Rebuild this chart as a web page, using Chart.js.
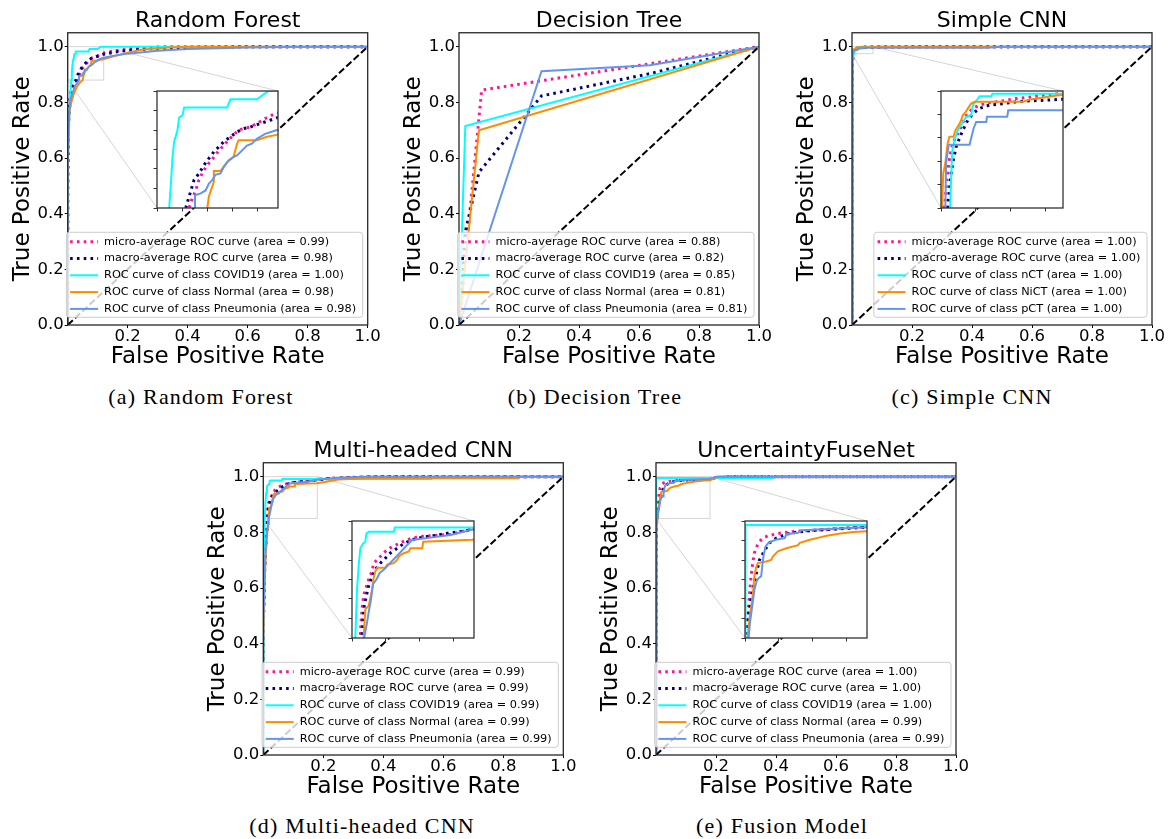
<!DOCTYPE html>
<html>
<head>
<meta charset="utf-8">
<script src="https://cdn.jsdelivr.net/npm/chart.js@4.4.0/dist/chart.umd.min.js"></script>
<style>
  body { margin: 0; background: #fff; width: 1172px; height: 839px; position: relative; overflow: hidden; }
  canvas { position: absolute; }
  .cap { position: absolute; font-family: "Liberation Serif", serif; font-size: 22px; letter-spacing: 1.2px;
         transform: translate(-50%, -50%); white-space: nowrap; color: #000; }
</style>
</head>
<body>
<canvas id="rf" width="390" height="375" style="left:0px;top:0px"></canvas>
<canvas id="dt" width="390" height="375" style="left:391px;top:0px"></canvas>
<canvas id="cnn" width="390" height="375" style="left:784px;top:0px"></canvas>
<canvas id="mh" width="390" height="375" style="left:195px;top:430px"></canvas>
<canvas id="uf" width="390" height="375" style="left:588px;top:430px"></canvas>

<div class="cap" style="left:201px;top:397px">(a) Random Forest</div>
<div class="cap" style="left:595px;top:397px">(b) Decision Tree</div>
<div class="cap" style="left:972px;top:397px">(c) Simple CNN</div>
<div class="cap" style="left:362px;top:826px">(d) Multi-headed CNN</div>
<div class="cap" style="left:782px;top:826px">(e) Fusion Model</div>

<script>
// ---- data: [false positive rate, true positive rate] ----
var chanceLine = [[0, 0], [1, 1]];

// (a) Random Forest
var rfMicro = [[0,0],[0,0.5],[0.003,0.72],[0.008,0.8],[0.015,0.85],[0.025,0.87],[0.0318,0.88],[0.0351,0.89],[0.0384,0.898],[0.0416,0.909],[0.0466,0.919],[0.0515,0.926],[0.0564,0.932],[0.0613,0.939],[0.0662,0.944],[0.0711,0.95],[0.0761,0.955],[0.081,0.96],[0.0859,0.9615],[0.0925,0.963],[0.099,0.9666],[0.1072,0.9717],[0.117,0.9768],[0.15,0.984],[0.2,0.992],[0.3,0.999],[0.35,1],[1,1]];
var rfMacro = [[0,0],[0,0.55],[0.003,0.75],[0.008,0.82],[0.015,0.86],[0.022,0.875],[0.0285,0.88],[0.0318,0.8916],[0.0367,0.9086],[0.0416,0.9155],[0.0466,0.924],[0.0515,0.931],[0.0564,0.9376],[0.0613,0.9427],[0.0662,0.948],[0.0728,0.953],[0.0793,0.958],[0.0859,0.9615],[0.0925,0.963],[0.1023,0.9666],[0.1121,0.97],[0.12,0.973],[0.16,0.981],[0.2,0.987],[0.3,0.994],[0.45,0.998],[0.6,1],[1,1]];
var rfCovid = [[0,0],[0,0.55],[0.004,0.7],[0.008,0.82],[0.0121,0.88],[0.0138,0.905],[0.0154,0.9325],[0.017,0.948],[0.019,0.955],[0.0203,0.96],[0.022,0.973],[0.0253,0.975],[0.0269,0.983],[0.0695,0.983],[0.0728,0.9915],[0.099,0.9915],[0.1105,1],[1,1]];
var rfNormal = [[0,0],[0,0.55],[0.003,0.7],[0.006,0.77],[0.012,0.8],[0.02,0.83],[0.03,0.855],[0.04,0.87],[0.0499,0.88],[0.0514,0.8916],[0.0564,0.907],[0.0564,0.918],[0.063,0.918],[0.0695,0.927],[0.076,0.9325],[0.0794,0.946],[0.081,0.9496],[0.099,0.9496],[0.109,0.953],[0.1187,0.955],[0.15,0.965],[0.2,0.978],[0.25,0.99],[0.35,0.998],[0.4,1],[1,1]];
var rfPneu = [[0,0],[0,0.6],[0.004,0.75],[0.008,0.8],[0.015,0.83],[0.025,0.86],[0.035,0.875],[0.0377,0.88],[0.0377,0.893],[0.0433,0.895],[0.0482,0.898],[0.0515,0.905],[0.0548,0.9086],[0.058,0.914],[0.063,0.9155],[0.0662,0.922],[0.0711,0.929],[0.0761,0.9325],[0.0793,0.934],[0.0843,0.939],[0.0892,0.944],[0.0941,0.946],[0.099,0.951],[0.1072,0.956],[0.1203,0.9605],[0.15,0.967],[0.2,0.975],[0.3,0.985],[0.4,0.992],[0.6,0.997],[0.8,1],[1,1]];
var rfLabels = ['micro-average ROC curve (area = 0.99)', 'macro-average ROC curve (area = 0.98)',
  'ROC curve of class COVID19 (area = 1.00)', 'ROC curve of class Normal (area = 0.98)', 'ROC curve of class Pneumonia (area = 0.98)'];

// (b) Decision Tree
var dtMicro = [[0,0],[0.0755,0.844],[1,1]];
var dtMacro = [[0,0],[0.021,0.335],[0.0666,0.549],[0.275,0.823],[0.636,0.903],[1,1]];
var dtCovid = [[0,0],[0.021,0.715],[1,1]];
var dtNormal = [[0,0],[0.0666,0.70],[1,1]];
var dtPneu = [[0,0],[0.275,0.912],[0.636,0.933],[1,1]];
var dtLabels = ['micro-average ROC curve (area = 0.88)', 'macro-average ROC curve (area = 0.82)',
  'ROC curve of class COVID19 (area = 0.85)', 'ROC curve of class Normal (area = 0.81)', 'ROC curve of class Pneumonia (area = 0.81)'];

// (c) Simple CNN
var cnnMicro = [[0,0],[0,0.8],[0.001,0.94],[0.0019,0.975],[0.0029,0.9789],[0.0038,0.9824],[0.0048,0.9853],[0.0058,0.9874],[0.0077,0.9895],[0.0096,0.9909],[0.0116,0.9924],[0.0135,0.9941],[0.0154,0.9952],[0.0183,0.9963],[0.0222,0.997],[0.0279,0.9975],[0.0357,0.9979],[0.0434,0.9984],[0.0511,0.9987],[0.0588,0.9991],[0.0675,0.9994],[0.1,0.9997],[0.2,1],[1,1]];
var cnnMacro = [[0,0],[0,0.8],[0.0015,0.94],[0.0038,0.975],[0.0048,0.9789],[0.0058,0.9824],[0.0071,0.9853],[0.0087,0.9881],[0.0106,0.9899],[0.0125,0.9916],[0.0154,0.9938],[0.0183,0.9952],[0.0222,0.9963],[0.0279,0.997],[0.0357,0.9973],[0.0434,0.9977],[0.0511,0.9979],[0.0588,0.998],[0.0675,0.9982],[0.15,0.999],[0.3,1],[1,1]];
var cnnNct = [[0,0],[0,0.85],[0.003,0.95],[0.0052,0.975],[0.0058,0.981],[0.0064,0.987],[0.0077,0.9895],[0.0096,0.9916],[0.0144,0.9945],[0.0173,0.9948],[0.0183,0.997],[0.0212,0.9984],[0.0222,0.9989],[0.0289,0.9989],[0.0295,0.9994],[0.2,0.9994],[0.3,1],[1,1]];
var cnnNict = [[0,0],[0,0.9],[0.0003,0.96],[0.0006,0.975],[0.0013,0.9824],[0.0025,0.9846],[0.0038,0.9888],[0.0048,0.9902],[0.0071,0.9902],[0.0083,0.9916],[0.0102,0.9927],[0.0116,0.9938],[0.0125,0.9948],[0.0141,0.9955],[0.016,0.9966],[0.0173,0.9973],[0.0193,0.9977],[0.0472,0.9977],[0.0511,0.9982],[0.0675,0.9991],[0.1,1],[1,1]];
var cnnPct = [[0,0],[0,0.85],[0.0015,0.95],[0.0025,0.975],[0.0029,0.9846],[0.0044,0.9885],[0.0164,0.9885],[0.0173,0.9899],[0.0187,0.992],[0.0202,0.9934],[0.026,0.9934],[0.0264,0.9945],[0.038,0.9945],[0.0386,0.9959],[0.45,0.9959],[0.5,1],[1,1]];
var cnnLabels = ['micro-average ROC curve (area = 1.00)', 'macro-average ROC curve (area = 1.00)',
  'ROC curve of class nCT (area = 1.00)', 'ROC curve of class NiCT (area = 1.00)', 'ROC curve of class pCT (area = 1.00)'];

// (d) Multi-headed CNN
var mhMicro = [[0,0],[0,0.45],[0.003,0.65],[0.007,0.76],[0.01,0.81],[0.0123,0.851],[0.0133,0.87],[0.0148,0.887],[0.0172,0.904],[0.0197,0.912],[0.0246,0.925],[0.0296,0.9355],[0.032,0.946],[0.037,0.95],[0.0444,0.957],[0.0518,0.963],[0.0592,0.967],[0.069,0.971],[0.0789,0.975],[0.0888,0.978],[0.1011,0.98],[0.1159,0.981],[0.1307,0.982],[0.1455,0.983],[0.1603,0.986],[0.1776,0.99],[0.22,0.994],[0.3,0.998],[0.35,1],[1,1]];
var mhMacro = [[0,0],[0,0.45],[0.004,0.65],[0.008,0.75],[0.012,0.8],[0.0148,0.851],[0.0162,0.874],[0.0182,0.891],[0.0212,0.904],[0.0246,0.917],[0.0281,0.925],[0.033,0.9355],[0.0394,0.944],[0.0468,0.95],[0.0567,0.959],[0.0666,0.965],[0.0764,0.971],[0.0863,0.975],[0.0962,0.978],[0.111,0.98],[0.1258,0.982],[0.1455,0.985],[0.1652,0.987],[0.1776,0.989],[0.22,0.993],[0.3,0.997],[0.4,1],[1,1]];
var mhCovid = [[0,0],[0,0.45],[0.002,0.7],[0.004,0.82],[0.0049,0.851],[0.0074,0.912],[0.0098,0.942],[0.0123,0.965],[0.0162,0.971],[0.0197,0.9735],[0.0212,0.984],[0.0246,0.9861],[0.0616,0.9861],[0.0631,0.9916],[0.56,0.9916],[0.565,1],[1,1]];
var mhNormal = [[0,0],[0,0.4],[0.004,0.6],[0.008,0.72],[0.012,0.78],[0.015,0.82],[0.0172,0.851],[0.0197,0.887],[0.0246,0.891],[0.0296,0.912],[0.032,0.927],[0.0345,0.9355],[0.037,0.94],[0.0493,0.94],[0.0518,0.944],[0.0616,0.946],[0.0666,0.95],[0.069,0.9545],[0.0764,0.9587],[0.0838,0.961],[0.0863,0.965],[0.1036,0.965],[0.1051,0.9735],[0.1776,0.976],[0.2,0.98],[0.25,0.99],[0.35,0.994],[0.85,0.994],[0.855,1],[1,1]];
var mhPneu = [[0,0],[0,0.45],[0.003,0.6],[0.008,0.75],[0.012,0.8],[0.016,0.83],[0.0182,0.851],[0.0222,0.87],[0.0246,0.883],[0.0281,0.9],[0.031,0.919],[0.036,0.925],[0.0409,0.9334],[0.0468,0.9376],[0.0518,0.942],[0.0715,0.96],[0.0789,0.967],[0.0888,0.9756],[0.1184,0.979],[0.1455,0.982],[0.1776,0.989],[0.25,0.996],[0.35,1],[1,1]];
var mhLabels = ['micro-average ROC curve (area = 0.99)', 'macro-average ROC curve (area = 0.99)',
  'ROC curve of class COVID19 (area = 0.99)', 'ROC curve of class Normal (area = 0.99)', 'ROC curve of class Pneumonia (area = 0.99)'];

// (e) UncertaintyFuseNet
var ufMicro = [[0,0],[0,0.7],[0.001,0.8],[0.0024,0.851],[0.0044,0.879],[0.0064,0.904],[0.0089,0.929],[0.0114,0.946],[0.0138,0.959],[0.0173,0.967],[0.0213,0.9735],[0.0262,0.978],[0.0337,0.981],[0.0436,0.983],[0.056,0.985],[0.0758,0.987],[0.1006,0.988],[0.1304,0.99],[0.18,0.993],[0.2,0.997],[0.25,1],[1,1]];
var ufMacro = [[0,0],[0,0.7],[0.0014,0.851],[0.0064,0.887],[0.0114,0.912],[0.0163,0.931],[0.0213,0.95],[0.0287,0.962],[0.0362,0.972],[0.0461,0.978],[0.061,0.983],[0.0783,0.986],[0.1006,0.988],[0.1403,0.99],[0.18,0.992],[0.2,0.996],[0.25,1],[1,1]];
var ufCovid = [[0,0],[0,0.75],[0.0014,0.995],[0.39,0.995],[0.39,1],[1,1]];
var ufNormal = [[0,0],[0,0.7],[0.002,0.8],[0.0039,0.851],[0.0064,0.874],[0.0114,0.904],[0.0138,0.929],[0.0163,0.94],[0.0188,0.946],[0.0312,0.948],[0.0386,0.95],[0.0411,0.9545],[0.0485,0.961],[0.061,0.965],[0.0783,0.969],[0.0808,0.972],[0.0957,0.976],[0.1105,0.979],[0.1205,0.981],[0.1403,0.984],[0.1601,0.986],[0.18,0.987],[0.21,1],[1,1]];
var ufPneu = [[0,0],[0,0.75],[0.003,0.82],[0.0054,0.851],[0.0074,0.87],[0.0114,0.8955],[0.0138,0.912],[0.0173,0.923],[0.0203,0.927],[0.0238,0.929],[0.0252,0.94],[0.0272,0.9545],[0.0302,0.967],[0.0337,0.971],[0.0386,0.9735],[0.0451,0.976],[0.0585,0.978],[0.061,0.983],[0.0783,0.985],[0.0833,0.988],[0.18,0.992],[0.2,1],[1,1]];
var ufLabels = ['micro-average ROC curve (area = 1.00)', 'macro-average ROC curve (area = 1.00)',
  'ROC curve of class COVID19 (area = 1.00)', 'ROC curve of class Normal (area = 0.99)', 'ROC curve of class Pneumonia (area = 0.99)'];

// tick values
var mainXTicks = [0.2, 0.4, 0.6, 0.8, 1.0];
var mainYTicks = [0.0, 0.2, 0.4, 0.6, 0.8, 1.0];
var insetRfX = [0, 0.025, 0.05, 0.075, 0.1];
var insetRfY = [0.88, 0.90, 0.92, 0.94, 0.96, 0.98, 1.0];
var insetCnnX = [0, 0.02, 0.04, 0.06];
var insetCnnY = [0.975, 0.98, 0.985, 0.99, 0.995, 1.0];
var insetMhX = [0, 0.05, 0.1, 0.15];
var insetMhY = [0.85, 0.875, 0.9, 0.925, 0.95, 0.975, 1.0];

// ---- styling / layout ----
Chart.defaults.font.family = '"DejaVu Sans", sans-serif';
Chart.defaults.color = '#000';

var curveStyles = [
  { color: 'deeppink', width: 3, dash: [2.6, 4.2] },
  { color: 'navy', width: 3, dash: [2.6, 4.2] },
  { color: 'aqua', width: 2, dash: [] },
  { color: 'darkorange', width: 2, dash: [] },
  { color: 'cornflowerblue', width: 2, dash: [] }
];
var MAIN_W = 390, MAIN_H = 375, AREA_W = 300;
var INSET_BOX = [0.297, 0.702, 0.419, 0.842]; // where the inset sits, in main-axes data units
var LEGEND_FONT = '11.3px "DejaVu Sans"';

var panels = [
  { id: 'rf', left: 0, top: 0, yw: 67.7, title: 'Random Forest', curves: [rfMicro, rfMacro, rfCovid, rfNormal, rfPneu], labels: rfLabels,
    inset: { xMin: 0, xMax: 0.12, yMin: 0.88, yMax: 1.0, xTicks: insetRfX, yTicks: insetRfY } },
  { id: 'dt', left: 391, top: 0, yw: 68, title: 'Decision Tree', curves: [dtMicro, dtMacro, dtCovid, dtNormal, dtPneu], labels: dtLabels, inset: null },
  { id: 'cnn', left: 784, top: 0, yw: 68, title: 'Simple CNN', curves: [cnnMicro, cnnMacro, cnnNct, cnnNict, cnnPct], labels: cnnLabels,
    inset: { xMin: 0, xMax: 0.07, yMin: 0.975, yMax: 1.0, xTicks: insetCnnX, yTicks: insetCnnY } },
  { id: 'mh', left: 195, top: 430, yw: 68.3, title: 'Multi-headed CNN', curves: [mhMicro, mhMacro, mhCovid, mhNormal, mhPneu], labels: mhLabels,
    inset: { xMin: 0, xMax: 0.18, yMin: 0.85, yMax: 1.0, xTicks: insetMhX, yTicks: insetMhY } },
  { id: 'uf', left: 588, top: 430, yw: 68, title: 'UncertaintyFuseNet', curves: [ufMicro, ufMacro, ufCovid, ufNormal, ufPneu], labels: ufLabels,
    inset: { xMin: 0, xMax: 0.18, yMin: 0.85, yMax: 1.0, xTicks: insetMhX, yTicks: insetMhY } }
];

function curveDatasets(curves) {
  return curves.map(function (c, i) {
    var s = curveStyles[i];
    return { data: c, borderColor: s.color, borderWidth: s.width, borderDash: s.dash, pointRadius: 0,
             tension: 0, fill: false, clip: 0, order: 6 - i };
  });
}

function fixedTicks(list) {
  return function (scale) { scale.ticks = list.map(function (v) { return { value: v }; }); };
}

function drawFrame(chart, color, width) {
  var a = chart.chartArea, ctx = chart.ctx;
  ctx.save();
  ctx.strokeStyle = color;
  ctx.lineWidth = width;
  ctx.strokeRect(a.left, a.top, a.right - a.left, a.bottom - a.top);
  ctx.restore();
}

function roundedBox(ctx, x, y, w, h, r) {
  ctx.beginPath();
  ctx.moveTo(x + r, y);
  ctx.lineTo(x + w - r, y); ctx.arcTo(x + w, y, x + w, y + r, r);
  ctx.lineTo(x + w, y + h - r); ctx.arcTo(x + w, y + h, x + w - r, y + h, r);
  ctx.lineTo(x + r, y + h); ctx.arcTo(x, y + h, x, y + h - r, r);
  ctx.lineTo(x, y + r); ctx.arcTo(x, y, x + r, y, r);
  ctx.closePath();
}

function drawLegend(chart, labels) {
  var ctx = chart.ctx, a = chart.chartArea;
  ctx.save();
  ctx.font = LEGEND_FONT;
  var tw = 0;
  labels.forEach(function (t) { tw = Math.max(tw, ctx.measureText(t).width); });
  var w = 37.7 + tw + 6.6, h = 85;
  var x0 = a.right - 5 - w, y0 = a.bottom - 7.7 - h;
  roundedBox(ctx, x0, y0, w, h, 3);
  ctx.fillStyle = 'rgba(255,255,255,0.8)';
  ctx.fill();
  ctx.strokeStyle = '#cccccc';
  ctx.lineWidth = 1;
  ctx.stroke();
  labels.forEach(function (t, i) {
    var s = curveStyles[i], yy = y0 + 9.4 + i * 16.8;
    ctx.beginPath();
    ctx.setLineDash(s.dash);
    ctx.lineWidth = s.width;
    ctx.strokeStyle = s.color;
    ctx.moveTo(x0 + 3.7, yy);
    ctx.lineTo(x0 + 31.7, yy);
    ctx.stroke();
    ctx.setLineDash([]);
    ctx.fillStyle = '#000';
    ctx.textBaseline = 'middle';
    ctx.fillText(t, x0 + 37.7, yy);
  });
  ctx.restore();
}

// corners of the inset box in chart pixels (rounded like the inset canvas)
function insetCorners(chart, p) {
  var xs = chart.scales.x, ys = chart.scales.y;
  return {
    x0: Math.round(p.left + xs.getPixelForValue(INSET_BOX[0])) - p.left,
    x1: Math.round(p.left + xs.getPixelForValue(INSET_BOX[1])) - p.left,
    y0: Math.round(p.top + ys.getPixelForValue(INSET_BOX[3])) - p.top,
    y1: Math.round(p.top + ys.getPixelForValue(INSET_BOX[2])) - p.top
  };
}

function drawZoomMarks(chart, p) {
  var ins = p.inset, xs = chart.scales.x, ys = chart.scales.y, ctx = chart.ctx;
  var rx0 = xs.getPixelForValue(ins.xMin), rx1 = xs.getPixelForValue(ins.xMax);
  var ry0 = ys.getPixelForValue(ins.yMax), ry1 = ys.getPixelForValue(ins.yMin);
  var b = insetCorners(chart, p);
  ctx.save();
  ctx.strokeStyle = 'rgba(0,0,0,0.17)';
  ctx.lineWidth = 1;
  ctx.strokeRect(rx0, ry0, rx1 - rx0, ry1 - ry0);
  ctx.beginPath();
  ctx.moveTo(rx1, ry0); ctx.lineTo(b.x1, b.y0);
  ctx.moveTo(rx0, ry1); ctx.lineTo(b.x0, b.y1);
  ctx.stroke();
  ctx.restore();
}

function mainConfig(p) {
  var ds = curveDatasets(p.curves);
  ds.push({ data: chanceLine, borderColor: '#000', borderWidth: 2, borderDash: [7, 3], pointRadius: 0,
            tension: 0, fill: false, clip: 0, order: 0 });
  return {
    type: 'line',
    data: { datasets: ds },
    options: {
      responsive: false, animation: false, devicePixelRatio: 1, events: [],
      layout: { padding: { left: 0, top: 0, right: MAIN_W - p.yw - AREA_W, bottom: 0 } },
      plugins: {
        legend: { display: false },
        tooltip: { enabled: false },
        title: { display: true, text: p.title, fullSize: false, color: '#000',
                 font: { size: 22, weight: 'normal', lineHeight: 1.08 }, padding: { top: 9, bottom: 0 } }
      },
      scales: {
        x: {
          type: 'linear', min: 0, max: 1,
          border: { display: false },
          grid: { drawOnChartArea: false, drawTicks: true, tickLength: 3, color: '#000' },
          ticks: { font: { size: 16.5, lineHeight: 1.05 }, padding: 0, maxRotation: 0, color: '#000',
                   callback: function (v) { return v.toFixed(1); } },
          afterBuildTicks: fixedTicks(mainXTicks),
          afterFit: function (s) { s.height = 50; },
          title: { display: true, text: 'False Positive Rate', color: '#000',
                   font: { size: 23, lineHeight: 1.2 }, padding: { top: 0, bottom: 4 } }
        },
        y: {
          type: 'linear', min: 0, max: 1.05,
          border: { display: false },
          grid: { drawOnChartArea: false, drawTicks: true, tickLength: 3, color: '#000' },
          ticks: { font: { size: 16.5 }, padding: 1, color: '#000',
                   callback: function (v) { return v.toFixed(1); } },
          afterBuildTicks: fixedTicks(mainYTicks),
          afterFit: function (s) { s.width = p.yw; },
          title: { display: true, text: 'True Positive Rate', color: '#000',
                   font: { size: 23, lineHeight: 1.2 }, padding: { top: 9, bottom: 0 } }
        }
      }
    },
    plugins: [{
      id: 'panel_' + p.id,
      beforeDatasetsDraw: function (chart) { if (p.inset) drawZoomMarks(chart, p); },
      afterDatasetsDraw: function (chart) { drawFrame(chart, '#262626', 1.3); drawLegend(chart, p.labels); }
    }]
  };
}

function insetConfig(p) {
  var ins = p.inset;
  return {
    type: 'line',
    data: { datasets: curveDatasets(p.curves) },
    options: {
      responsive: false, animation: false, devicePixelRatio: 1, events: [],
      layout: { padding: { left: 0, top: 1, right: 1, bottom: 0 } },
      plugins: { legend: { display: false }, tooltip: { enabled: false } },
      scales: {
        x: {
          type: 'linear', min: ins.xMin, max: ins.xMax,
          border: { display: false },
          grid: { drawOnChartArea: false, drawTicks: true, tickLength: 3.5, color: '#333' },
          ticks: { display: false },
          afterBuildTicks: fixedTicks(ins.xTicks),
          afterFit: function (s) { s.height = 6; }
        },
        y: {
          type: 'linear', min: ins.yMin, max: ins.yMax,
          border: { display: false },
          grid: { drawOnChartArea: false, drawTicks: true, tickLength: 3.5, color: '#333' },
          ticks: { display: false },
          afterBuildTicks: fixedTicks(ins.yTicks),
          afterFit: function (s) { s.width = 6; }
        }
      }
    },
    plugins: [{
      id: 'insetFrame_' + p.id,
      beforeDraw: function (chart) {
        var a = chart.chartArea;
        chart.ctx.save();
        chart.ctx.fillStyle = '#fff';
        chart.ctx.fillRect(a.left, a.top, a.right - a.left, a.bottom - a.top);
        chart.ctx.restore();
      },
      afterDatasetsDraw: function (chart) { drawFrame(chart, '#333', 1.3); }
    }]
  };
}

panels.forEach(function (p) {
  var chart = new Chart(document.getElementById(p.id), mainConfig(p));
  if (!p.inset) return;
  var b = insetCorners(chart, p);
  var cv = document.createElement('canvas');
  cv.width = (b.x1 - b.x0) + 7;
  cv.height = (b.y1 - b.y0) + 7;
  cv.style.left = (p.left + b.x0 - 6) + 'px';
  cv.style.top = (p.top + b.y0 - 1) + 'px';
  document.body.appendChild(cv);
  new Chart(cv, insetConfig(p));
});
</script>
</body>
</html>
